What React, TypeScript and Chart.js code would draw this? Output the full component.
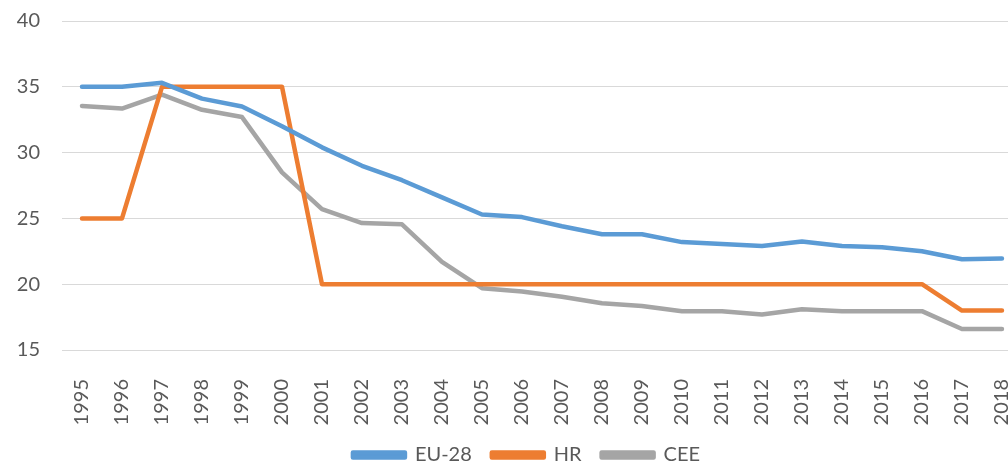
import React, { useEffect, useRef } from "react";
import { Chart, registerables } from "chart.js";

Chart.register(...registerables);

const years = ["1995","1996","1997","1998","1999","2000","2001","2002","2003","2004","2005","2006","2007","2008","2009","2010","2011","2012","2013","2014","2015","2016","2017","2018"];
const eu28 = [35.0, 35.0, 35.3, 34.1, 33.5, 32.0, 30.4, 29.0, 27.9, 26.6, 25.3, 25.1, 24.4, 23.8, 23.8, 23.2, 23.05, 22.9, 23.25, 22.9, 22.8, 22.5, 21.9, 21.95];
const hr = [25, 25, 35, 35, 35, 35, 20, 20, 20, 20, 20, 20, 20, 20, 20, 20, 20, 20, 20, 20, 20, 20, 18, 18];
const cee = [33.55, 33.35, 34.4, 33.25, 32.7, 28.5, 25.7, 24.65, 24.55, 21.7, 19.7, 19.45, 19.05, 18.55, 18.35, 17.95, 17.95, 17.7, 18.1, 17.95, 17.95, 17.95, 16.6, 16.6];
const yTicks = [15, 20, 25, 30, 35, 40];

const FONT = "Lato, 'Open Sans', sans-serif";
const TEXT = "#595959";

export default function App() {
  const ref = useRef<HTMLCanvasElement | null>(null);
  useEffect(() => {
    if (!ref.current) return;
    const chart = new Chart(ref.current, {
      type: "line",
      data: {
        labels: years,
        datasets: [
          { label: "EU-28", data: eu28, borderColor: "#5B9BD5", backgroundColor: "#5B9BD5" },
          { label: "HR", data: hr, borderColor: "#ED7D31", backgroundColor: "#ED7D31" },
          { label: "CEE", data: cee, borderColor: "#A5A5A5", backgroundColor: "#A5A5A5" },
        ].map((d) => ({ ...d, borderWidth: 4.5, pointRadius: 0, tension: 0, borderJoinStyle: "round" as const, borderCapStyle: "round" as const })),
      },
      options: {
        animation: false,
        responsive: false,
        maintainAspectRatio: false,
        layout: { padding: { top: 21, right: 2, left: 0, bottom: -13 } },
        plugins: {
          tooltip: { enabled: false },
          legend: {
            position: "bottom",
            labels: {
              color: TEXT,
              font: { family: FONT, size: 20, lineHeight: 1.2 },
              boxWidth: 52,
              boxHeight: 5,
              padding: 20,
            },
          },
        },
        scales: {
          x: {
            offset: true,
            afterFit: (s: any) => { s.height = 75; },
            grid: { display: false, drawTicks: false },
            border: { display: false },
            ticks: {
              color: TEXT,
              font: { family: FONT, size: 20 },
              maxRotation: 90,
              minRotation: 90,
              padding: 29,
              autoSkip: false,
            },
          },
          y: {
            min: 15,
            max: 40,
            afterFit: (s: any) => { s.width = 62; },
            afterBuildTicks: (s: any) => { s.ticks = yTicks.map((v) => ({ value: v })); },
            grid: { color: "#D9D9D9", lineWidth: 1, drawTicks: true, tickLength: 22, tickColor: "rgba(0,0,0,0)" },
            border: { display: false },
            ticks: {
              color: TEXT,
              font: { family: FONT, size: 20 },
              padding: 0,
            },
          },
        },
      },
    });
    return () => chart.destroy();
  }, []);
  return (
    <div style={{ position: "fixed", left: 0, top: 0, width: 1008, height: 462, overflow: "hidden", background: "#fff" }}>
      <canvas ref={ref} width={1055} height={462} style={{ display: "block", width: 1055, height: 462 }} />
    </div>
  );
}
